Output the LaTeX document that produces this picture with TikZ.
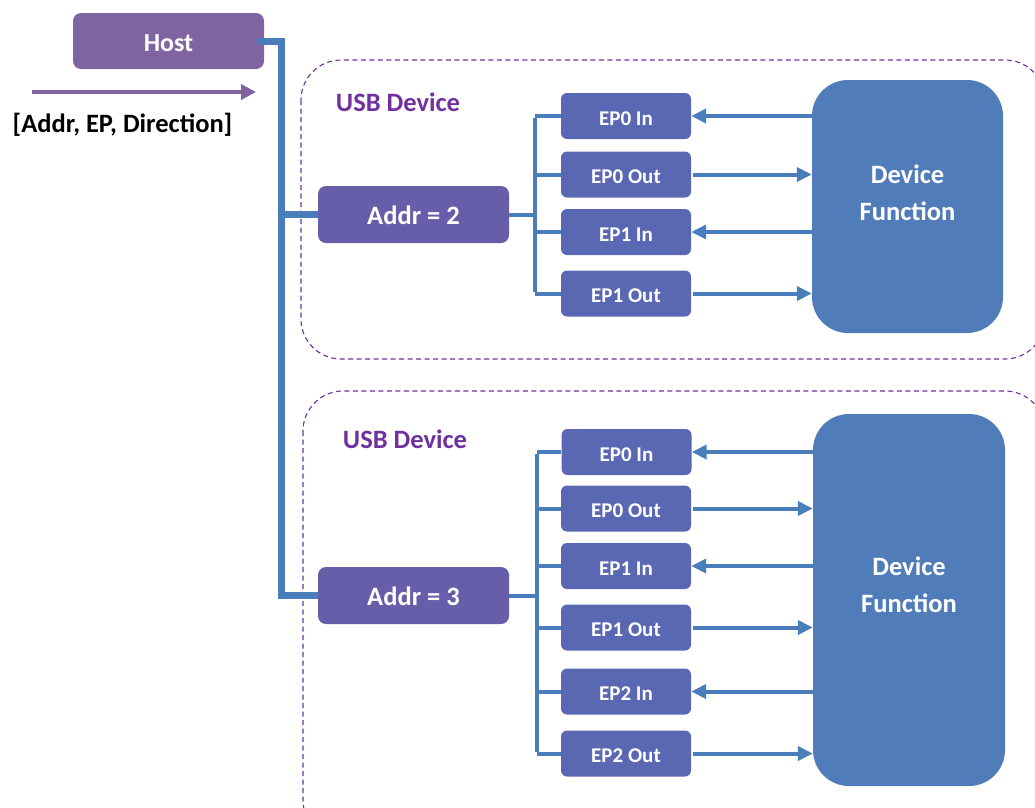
\documentclass[tikz,border=0pt]{standalone}
\usepackage{fontspec}
\setmainfont{Carlito}
\usetikzlibrary{arrows.meta}

\definecolor{hostc}{HTML}{8064A2}
\definecolor{addrc}{HTML}{675EA9}
\definecolor{epc}{HTML}{5A67B3}
\definecolor{dfc}{HTML}{517CBA}
\definecolor{linec}{HTML}{4A7EBB}
\definecolor{devc}{HTML}{7030A0}

\tikzset{
  hostbox/.style={rectangle, rounded corners=8pt, fill=hostc, text=white,
    font=\bfseries\fontsize{26}{30}\selectfont, text height=20.3pt, text depth=0pt,
    minimum width=191pt, minimum height=56pt, inner sep=0pt},
  addrbox/.style={rectangle, rounded corners=8pt, fill=addrc, text=white,
    font=\bfseries\fontsize{26.5}{30}\selectfont, text height=20.1pt, text depth=0pt,
    minimum width=191pt, minimum height=57pt, inner sep=0pt},
  epbox/.style={rectangle, rounded corners=6pt, fill=epc, text=white,
    font=\bfseries\fontsize{21}{24}\selectfont, text height=18.5pt, text depth=0pt,
    minimum width=130pt, minimum height=46pt, inner sep=0pt},
  dfbox/.style={rectangle, rounded corners=36pt, fill=dfc, inner sep=0pt},
  dftext/.style={text=white, align=center, font=\bfseries\fontsize{26.5}{37}\selectfont, inner sep=0pt},
  devlabel/.style={text=devc, font=\bfseries\fontsize{26.5}{30}\selectfont,
    text height=17.1pt, text depth=0pt, inner sep=0pt},
  devframe/.style={draw=devc, dashed, dash pattern=on 5pt off 3.5pt, line width=1.1pt, rounded corners=40pt},
  bus/.style={draw=linec, line width=7pt},
  tree/.style={draw=linec, line width=4pt},
  flow/.style={draw=linec, line width=4pt, -{Triangle[length=15pt,width=14pt]}},
}

\begin{document}
\begin{tikzpicture}[x=1pt, y=-1pt]
  \useasboundingbox (0,0) rectangle (1035,807);
  \clip (0,0) rectangle (1035,807);

  % device frames
  \draw[devframe] (301,60) rectangle (1045,359);
  \draw[devframe] (303,391) rectangle (1045,840);
  \node[devlabel] (usb1) at (398,103) {USB Device};
  \node[devlabel] (usb2) at (405,440) {USB Device};

  % host and the transfer token arrow
  \node[hostbox] (host) at (168.5,41) {Host};
  \coordinate (tokA) at (32,92);
  \coordinate (tokB) at (256,92);
  \draw[draw=hostc, line width=4pt, -{Triangle[length=15pt,width=15pt]}] (tokA) -- (tokB);
  \node[font=\bfseries\fontsize{26.5}{30}\selectfont, text height=17pt, text depth=0pt, inner sep=0pt]
    (token) at (122.5,123.5) {[Addr, EP, Direction]};

  % address nodes
  \node[addrbox] (addr2) at (413.5,214.5) {Addr = 2};
  \node[addrbox] (addr3) at (413.5,595.5) {Addr = 3};

  % endpoints of device 2
  \node[epbox] (a0i) at (626,116) {EP0 In};
  \node[epbox] (a0o) at (626,174.5) {EP0 Out};
  \node[epbox] (a1i) at (626,232) {EP1 In};
  \node[epbox] (a1o) at (626,293.5) {EP1 Out};

  % endpoints of device 3
  \node[epbox] (b0i) at (626.5,452) {EP0 In};
  \node[epbox] (b0o) at (626,508.5) {EP0 Out};
  \node[epbox] (b1i) at (626,566) {EP1 In};
  \node[epbox] (b1o) at (626,627.5) {EP1 Out};
  \node[epbox] (b2i) at (626,691.5) {EP2 In};
  \node[epbox] (b2o) at (626,753.5) {EP2 Out};

  % device functions
  \node[dfbox, minimum width=191pt, minimum height=253pt] (df1) at (907.5,206.5) {};
  \node[dftext] (df1t) at (907.5,192.5) {Device\\Function};
  \node[dfbox, minimum width=192pt, minimum height=372pt] (df2) at (909,600) {};
  \node[dftext] (df2t) at (909,585) {Device\\Function};

  % host bus
  \coordinate (busx) at (281,0);
  \draw[bus] ([xshift=-6pt]host.east) -| (busx |- addr3.west) -- (addr3.west);
  \draw[bus] (busx |- addr2.west) -- (addr2.west);

  % endpoint trees
  \coordinate (t1) at (535,0);
  \draw[tree] (addr2.east) -- (t1 |- addr2.east);
  \draw[tree] ([yshift=-2pt]t1 |- a0i.west) -- ([yshift=2pt]t1 |- a1o.west);
  \foreach \e in {a0i,a0o,a1i,a1o} \draw[tree] (t1 |- \e.west) -- (\e.west);

  \coordinate (t2) at (537,0);
  \draw[tree] (addr3.east) -- (t2 |- addr3.east);
  \draw[tree] ([yshift=-2pt]t2 |- b0i.west) -- ([yshift=2pt]t2 |- b2o.west);
  \foreach \e in {b0i,b0o,b1i,b1o,b2i,b2o} \draw[tree] (t2 |- \e.west) -- (\e.west);

  % data flow between endpoints and the device function
  \foreach \e in {a0i,a1i} \draw[flow] (df1.west |- \e.east) -- (\e.east);
  \foreach \e in {a0o,a1o} \draw[flow] ([xshift=2pt]\e.east) -- (df1.west |- \e.east);
  \foreach \e in {b0i,b1i,b2i} \draw[flow] (df2.west |- \e.east) -- (\e.east);
  \foreach \e in {b0o,b1o,b2o} \draw[flow] ([xshift=2pt]\e.east) -- (df2.west |- \e.east);
\end{tikzpicture}
\end{document}
